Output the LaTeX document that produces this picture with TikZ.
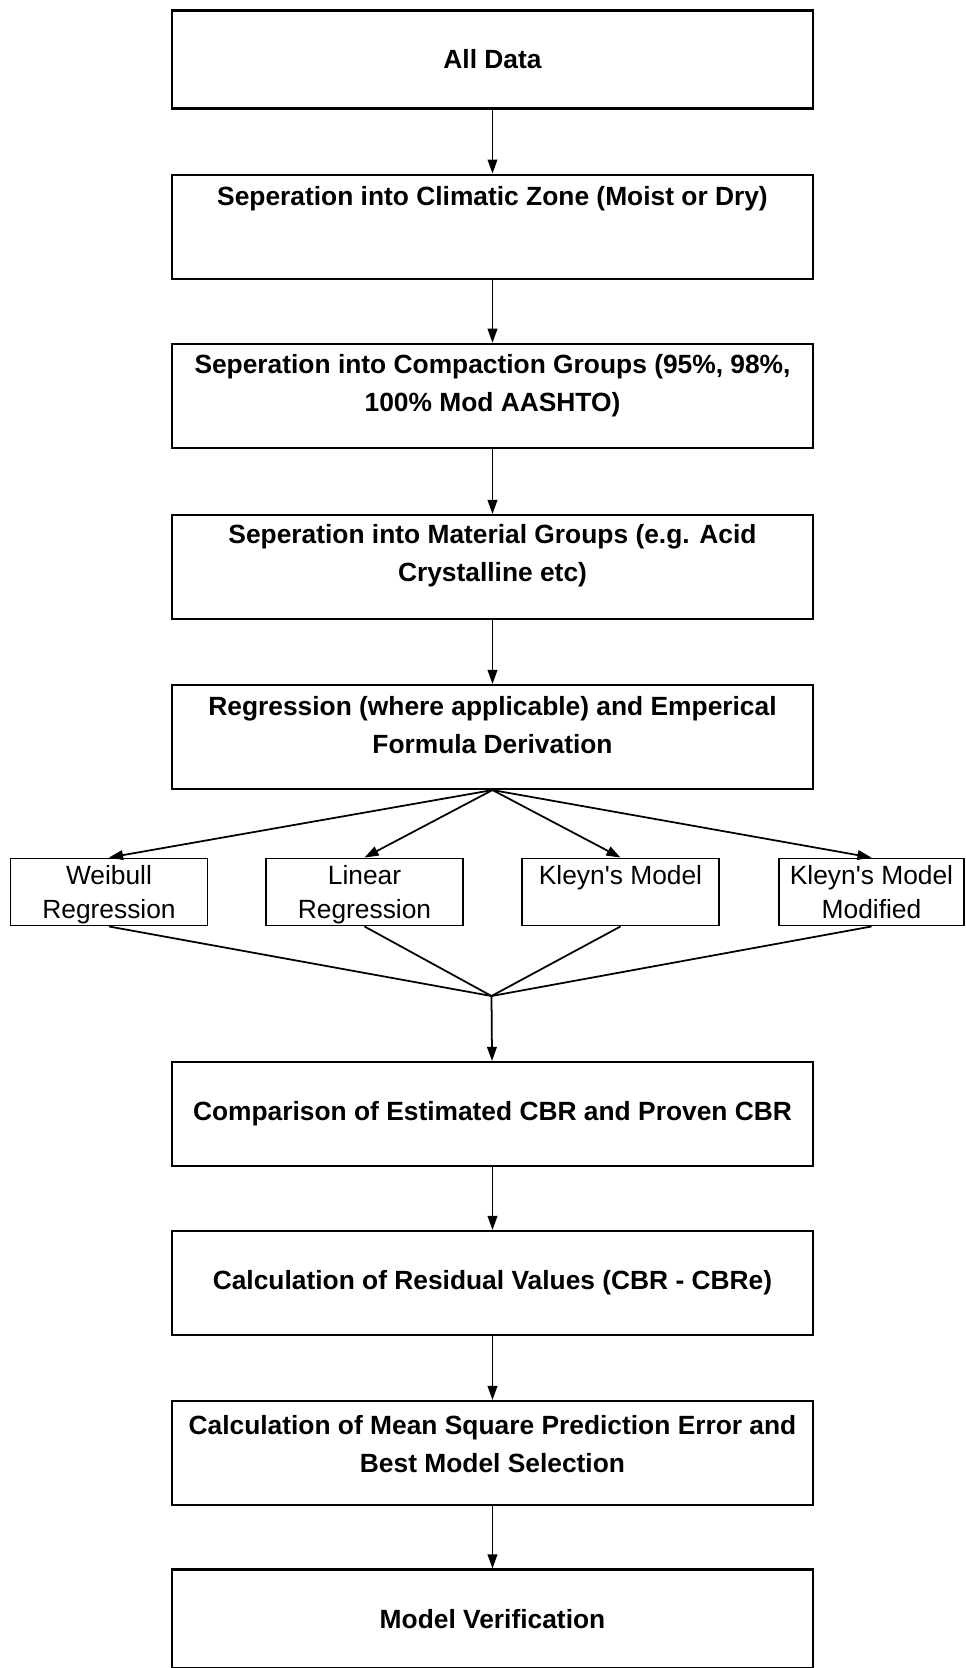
\documentclass[tikz,border=0pt]{standalone}
\usepackage{fontspec}
\setmainfont{Liberation Sans}
\usetikzlibrary{arrows.meta}

\begin{document}
\begin{tikzpicture}[x=0.02cm,y=-0.02cm,
  mainbox/.style={shape=rectangle,draw,line width=1.2pt,minimum width=12.82cm,minimum height=2.08cm,inner sep=0pt,font=\fontsize{15}{21.5}\selectfont\bfseries},
  smallbox/.style={shape=rectangle,draw,line width=1.1pt,minimum width=3.94cm,minimum height=1.34cm,inner sep=0pt,align=center,font=\fontsize{15}{19}\selectfont},
  boldtxt/.style={align=center,inner sep=0pt,font=\fontsize{15}{21.5}\selectfont\bfseries},
  flow/.style={line width=1pt,-{Triangle[length=8pt,width=5.5pt]}}]
\useasboundingbox (0,0) rectangle (965,1668);

\node(alldata) at (492.5,59.5)[mainbox,minimum height=1.96cm]{All Data};
\node(zone) at (492.5,226.6)[mainbox]{};
\node(zonetext) at (492.5,199)[boldtxt]{Seperation into Climatic Zone (Moist or Dry)};
\node(compaction) at (492.5,395.8)[mainbox]{};
\node(compactiontext) at (492.5,386)[boldtxt]{Seperation into Compaction Groups (95\%, 98\%,\\100\% Mod AASHTO)};
\node(material) at (492.5,567)[mainbox]{};
\node(materialtext) at (492.5,556)[boldtxt]{Seperation into Material Groups (e.g. Acid\\Crystalline etc)};
\node(regression) at (492.5,737)[mainbox]{};
\node(regressiontext) at (492.5,725)[boldtxt]{Regression (where applicable) and Emperical\\Formula Derivation};

% the four models
\node(weibull) at (109,892)[smallbox,text depth=-3pt]{Weibull\\Regression};
\node(linear) at (364.5,892)[smallbox,text depth=-3pt]{Linear\\Regression};
\node(kleyn) at (620.5,892)[smallbox,text depth=-3pt]{Kleyn\textquotesingle s Model\\\phantom{M}};
\node(modified) at (871.5,892)[smallbox,text depth=-3pt,minimum width=3.7cm]{Kleyn\textquotesingle s Model\\Modified};

\coordinate(split) at (regression.south);
\coordinate(merge) at (491.5,996);

\node(compare) at (492.5,1114)[mainbox]{Comparison of Estimated CBR and Proven CBR};
\node(residual) at (492.5,1283)[mainbox]{Calculation of Residual Values (CBR - CBRe)};
\node(mspe) at (492.5,1453)[mainbox]{};
\node(mspetext) at (492.5,1444)[boldtxt]{Calculation of Mean Square Prediction Error and\\Best Model Selection};
\node(verify) at (492.5,1619)[mainbox,minimum height=1.98cm]{Model Verification};

\path [flow]
  (alldata)     edge   (zone)
  (zone)        edge   (compaction)
  (compaction)  edge   (material)
  (material)    edge   (regression)
  (split)       edge   (weibull.north)
  (split)       edge   (linear.north)
  (split)       edge   (kleyn.north)
  (split)       edge   (modified.north)
  (merge)       edge   (compare)
  (compare)     edge   (residual)
  (residual)    edge   (mspe)
  (mspe)        edge   (verify);
\path [line width=1pt]
  (weibull.south)   edge   (merge)
  (linear.south)    edge   (merge)
  (kleyn.south)     edge   (merge)
  (modified.south)  edge   (merge);

\end{tikzpicture}
\end{document}
